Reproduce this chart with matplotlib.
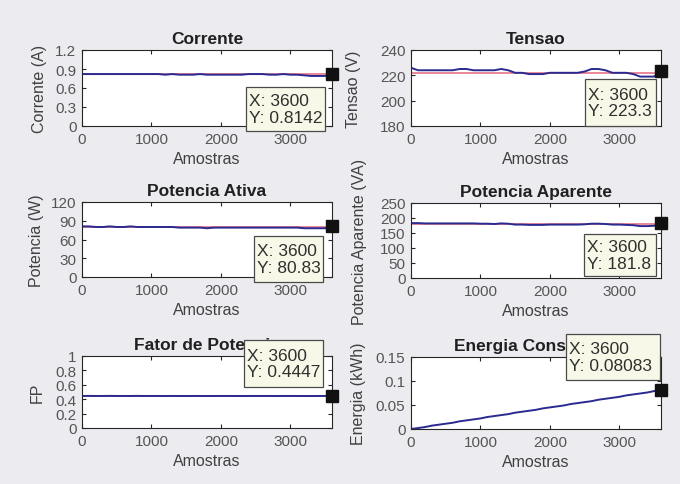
import numpy as np
import matplotlib
matplotlib.use('Agg')
from matplotlib import pyplot as plt
from matplotlib.patches import Rectangle

plt.rcParams['font.family'] = ['Liberation Sans', 'DejaVu Sans']

# amostras (x) a cada 100 amostras
amostras = np.arange(0, 3601, 100)

corrente = [0.82, 0.82, 0.82, 0.82, 0.82, 0.82, 0.82, 0.82, 0.82, 0.82, 0.82, 0.82, 0.81,
            0.82, 0.81, 0.81, 0.81, 0.82, 0.81, 0.81, 0.81, 0.81, 0.81, 0.81, 0.82, 0.82,
            0.82, 0.81, 0.81, 0.82, 0.81, 0.81, 0.80, 0.79, 0.79, 0.79, 0.8142]
corrente_ref = [0.82, 0.82]

tensao = [226, 224, 224, 224, 224, 224, 224, 225, 225, 224, 224, 224, 224, 225, 224, 222,
          222, 221, 221, 221, 222, 222, 222, 222, 222, 223, 225, 225, 224, 222, 222, 222,
          221, 219, 219, 219, 223.3]
tensao_ref = [222, 222]

pot_ativa = [81, 81, 80, 80, 81, 80, 80, 81, 80, 80, 80, 80, 80, 80, 79, 79, 79, 79, 78, 79,
             79, 79, 79, 79, 79, 79, 79, 79, 79, 79, 79, 79, 78, 78, 78, 78, 80.83]
pot_ativa_ref = [80, 80]

pot_aparente = [183, 183, 182, 182, 182, 182, 182, 182, 182, 182, 181, 181, 180, 182, 181,
                178, 178, 177, 177, 177, 178, 178, 178, 178, 178, 179, 181, 181, 180, 178,
                178, 177, 176, 173, 173, 174, 181.8]
pot_aparente_ref = [181, 181]

fp = [0.445, 0.446, 0.445, 0.445, 0.446, 0.445, 0.445, 0.445, 0.446, 0.445, 0.445, 0.445,
      0.444, 0.445, 0.445, 0.444, 0.445, 0.445, 0.444, 0.445, 0.445, 0.445, 0.445, 0.444,
      0.445, 0.445, 0.445, 0.445, 0.444, 0.445, 0.445, 0.445, 0.444, 0.444, 0.445, 0.445,
      0.4447]
fp_ref = [0.448, 0.448]

energia = [0, 0.002, 0.004, 0.007, 0.009, 0.011, 0.013, 0.016, 0.018, 0.020, 0.022, 0.025,
           0.027, 0.029, 0.031, 0.034, 0.036, 0.038, 0.040, 0.043, 0.045, 0.047, 0.049,
           0.052, 0.054, 0.056, 0.058, 0.061, 0.063, 0.065, 0.067, 0.070, 0.072, 0.074,
           0.076, 0.079, 0.08083]

ref_x = [0, 3600]

titles = ['Corrente', 'Tensao', 'Potencia Ativa', 'Potencia Aparente',
          'Fator de Potencia', 'Energia Consumida']
ylabels = ['Corrente (A)', 'Tensao (V)', 'Potencia (W)', 'Potencia Aparente (VA)',
           'FP', 'Energia (kWh)']
series = [corrente, tensao, pot_ativa, pot_aparente, fp, energia]
refs = [corrente_ref, tensao_ref, pot_ativa_ref, pot_aparente_ref, fp_ref, None]
ylims = [(0, 1.2), (180, 240), (0, 120), (0, 250), (0, 1), (0, 0.15)]
yticks = [[0, 0.3, 0.6, 0.9, 1.2], [180, 200, 220, 240], [0, 30, 60, 90, 120],
          [0, 50, 100, 150, 200, 250], [0, 0.2, 0.4, 0.6, 0.8, 1], [0, 0.05, 0.1, 0.15]]
xticks = [0, 1000, 2000, 3000]

W, H = 680, 485
# axes boxes in pixels: left, top, right, bottom
boxes = [(82, 51, 332, 127), (411, 51, 661, 127),
         (82, 203, 332, 278), (411, 204, 661, 279),
         (82, 357, 332, 429), (411, 358, 661, 430)]
# right edge (baseline side) of the rotated y labels, pixels
ylabel_x = [47, 361, 44, 367, 45, 366]
# datatip boxes in pixels: left, top, right, bottom
tips = [(246, 88, 325, 132), (585, 80, 656, 127),
        (254, 237, 323, 283), (584, 235, 656, 277),
        (244, 341, 323, 388), (566, 335, 660, 381)]

fig = plt.figure(figsize=(6.8, 4.85), dpi=100)
fig.patch.set_facecolor('#ececf0')

for i in range(6):
    l, t, r, b = boxes[i]
    ax = fig.add_axes([l / W, 1 - b / H, (r - l) / W, (b - t) / H])
    ax.set_facecolor('white')
    if refs[i] is not None:
        ax.plot(ref_x, refs[i], color='#e0506a', lw=1.2, alpha=0.8)
    ax.plot(amostras, series[i], color='#2a2a90', lw=1.4)
    ax.plot(amostras[-1], series[i][-1], 's', color='#111111', ms=8.5, clip_on=False, zorder=5)
    ax.set_xlim(0, 3600)
    ax.set_ylim(*ylims[i])
    ax.set_xticks(xticks)
    ax.set_yticks(yticks[i])
    ax.set_yticklabels(['%g' % v for v in yticks[i]])
    ax.tick_params(direction='in', top=True, right=True, length=3, width=0.8,
                   labelsize=11, labelcolor='#555555', colors='#262626', pad=4)
    for sp in ax.spines.values():
        sp.set_color('#262626')
        sp.set_linewidth(0.8)
    ax.set_title(titles[i], fontsize=12.5, fontweight='bold', color='#202020', pad=5)
    ax.set_xlabel('Amostras', fontsize=11.5, color='#404040', labelpad=4)
    ax.set_ylabel(ylabels[i], fontsize=11.5, color='#404040')
    ax.yaxis.set_label_coords((ylabel_x[i] - l) / (r - l), 0.5)

    # datatip
    tl, tt, tr, tb = tips[i]
    fig.patches.append(Rectangle((tl / W, 1 - tb / H), (tr - tl) / W, (tb - tt) / H,
                                 transform=fig.transFigure, facecolor='#f8f8e8',
                                 edgecolor='#4a4a4a', lw=0.9, zorder=6))
    fig.text((tl + 3) / W, 1 - ((tt + tb) / 2) / H,
             'X: %d\nY: %.4g' % (amostras[-1], series[i][-1]),
             fontsize=12.5, color='#303030', ha='left', va='center',
             linespacing=1.15, zorder=7)

fig.savefig('out.png', dpi=100, facecolor=fig.get_facecolor())
